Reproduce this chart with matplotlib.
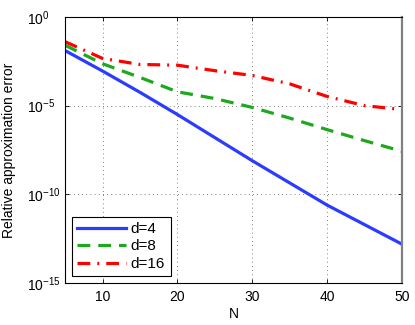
import numpy as np
import matplotlib
matplotlib.use("Agg")
import matplotlib.pyplot as plt
from matplotlib.ticker import FixedLocator, NullLocator

# values (log10 of the relative error)
n_values = [5, 10, 15, 20, 25, 30, 35, 40, 45, 50]
log_err_d4 = [-1.9, -3.05, -4.25, -5.5, -6.8, -8.1, -9.35, -10.6, -11.7, -12.8]
log_err_d8 = [-1.6, -2.64, -3.41, -4.22, -4.6, -5.1, -5.7, -6.35, -6.97, -7.57]
log_err_d16 = [-1.4, -2.34, -2.68, -2.72, -3.03, -3.3, -3.77, -4.48, -5.0, -5.22]
series_labels = ["d=4", "d=8", "d=16"]

plt.rcParams['font.family'] = ['Liberation Sans', 'DejaVu Sans']
plt.rcParams['mathtext.fontset'] = 'custom'
plt.rcParams['mathtext.rm'] = 'Liberation Sans'
plt.rcParams['mathtext.it'] = 'Liberation Sans:italic'

fig = plt.figure(figsize=(4.15, 3.25), dpi=100)
ax = fig.add_axes([0.157, 0.129, 0.811, 0.819])

n = np.array(n_values)
ax.plot(n, 10.0 ** np.array(log_err_d4), color='#2b3cff', linewidth=2.3,
        linestyle='-', label=series_labels[0])
ax.plot(n, 10.0 ** np.array(log_err_d8), color='#1ea81e', linewidth=2.3,
        linestyle=(0, (4, 2.5)), label=series_labels[1])
ax.plot(n, 10.0 ** np.array(log_err_d16), color='#ff0000', linewidth=2.3,
        linestyle=(0, (4, 2.2, 0.6, 2.2)), label=series_labels[2])

ax.set_yscale('log')
ax.set_xlim(5, 50)
ax.set_ylim(1e-15, 1e0)
ax.xaxis.set_major_locator(FixedLocator([10, 20, 30, 40, 50]))
ax.yaxis.set_major_locator(FixedLocator([1e-15, 1e-10, 1e-5, 1e0]))
ax.yaxis.set_minor_locator(NullLocator())
ax.tick_params(which='both', direction='in', top=True, right=True,
               labelsize=10, length=3, width=0.6)
ax.tick_params(axis='x', pad=5)
# MATLAB-style: the "10" bases line up, exponents stick out to the right
ax.tick_params(axis='y', pad=27.5)
for lbl in ax.get_yticklabels():
    lbl.set_horizontalalignment('left')
ax.grid(True, linestyle=(0, (1, 4)), color='#555555', linewidth=0.6)

for side in ['left', 'top', 'bottom']:
    ax.spines[side].set_linewidth(0.8)
ax.spines['right'].set_color('#808080')
ax.spines['right'].set_linewidth(1.6)

ax.set_xlabel('N', fontsize=10, labelpad=2)
ax.set_ylabel('Relative approximation error', fontsize=10)
ax.yaxis.set_label_coords(-0.145, 0.5)

leg = ax.legend(loc='lower left', fontsize=11, handlelength=3.2,
                handletextpad=0.3, fancybox=False, framealpha=1,
                edgecolor='black', borderaxespad=0.45, labelspacing=0.22,
                borderpad=0.35)
leg.get_frame().set_linewidth(0.8)

fig.savefig('out.png', dpi=100)
